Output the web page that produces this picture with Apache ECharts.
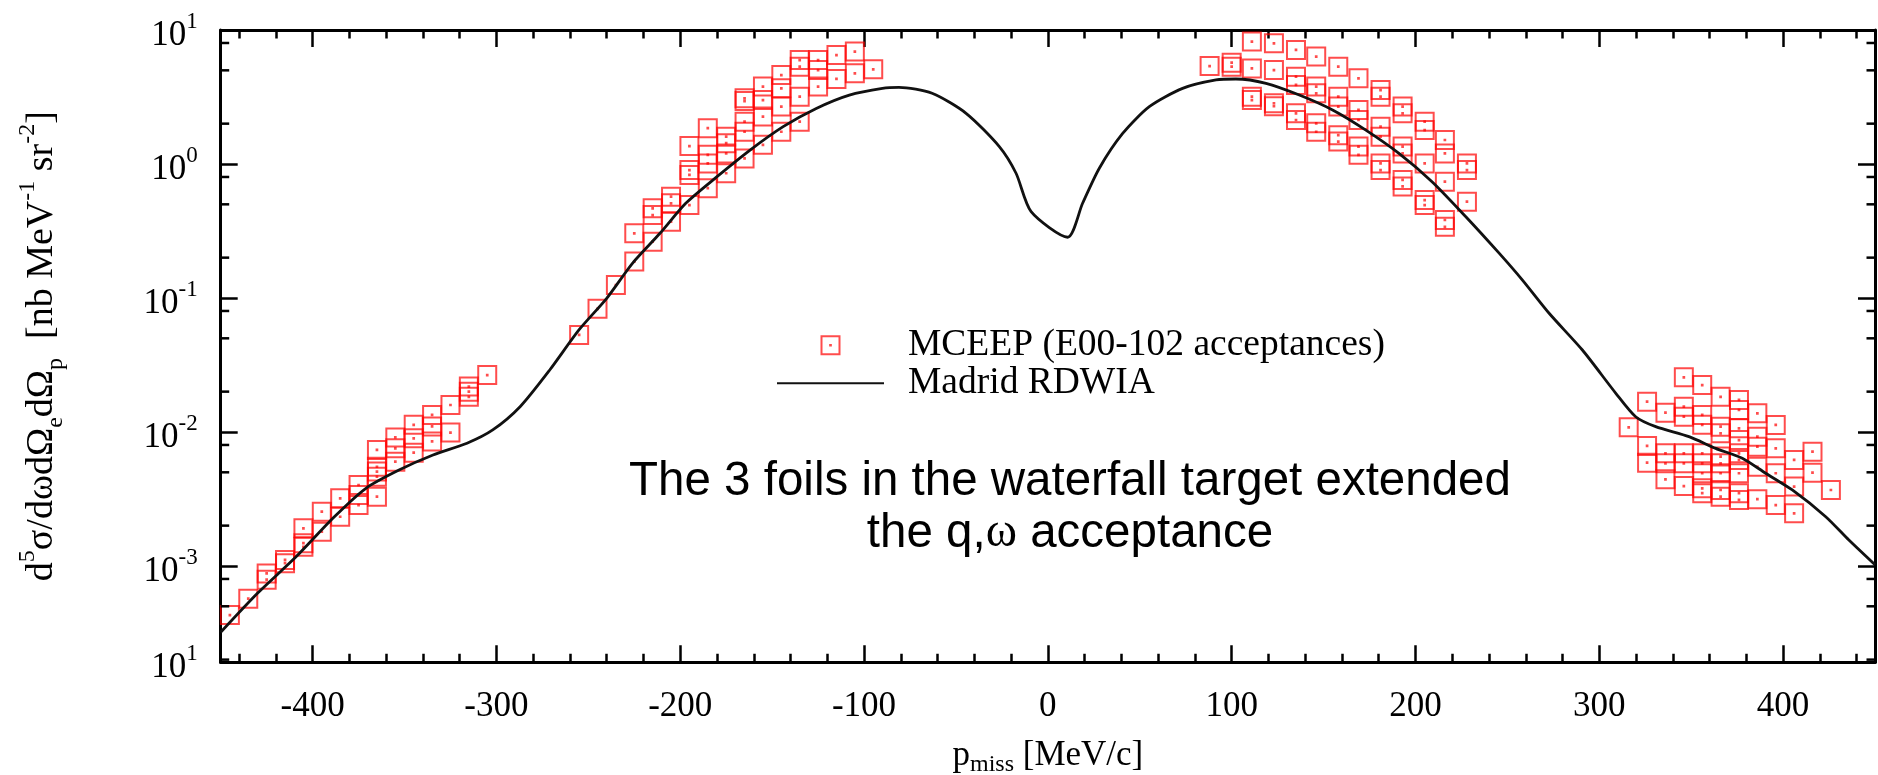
<!DOCTYPE html>
<html><head><meta charset="utf-8">
<script src="https://cdn.jsdelivr.net/npm/echarts@6/dist/echarts.min.js"></script>
<style>html,body{margin:0;padding:0;background:#fff;}#c{width:1878px;height:775px;}</style>
</head><body><div id="c"></div>
<script>
// ---- axis ranges & ticks ----
const X_MIN = -450, X_MAX = 450;
const Y_MIN = 1.91e-4, Y_MAX = 10;
const xMajorTicks = [-400, -300, -200, -100, 0, 100, 200, 300, 400];
const xMinorTicks = [-440, -420, -380, -360, -340, -320, -280, -260, -240, -220, -180, -160, -140, -120, -80, -60, -40, -20,
  20, 40, 60, 80, 120, 140, 160, 180, 220, 240, 260, 280, 320, 340, 360, 380, 420, 440];
const yMinorTicks = [2e-4, 5e-4, 8e-4, 2e-3, 5e-3, 8e-3, 0.02, 0.05, 0.08, 0.2, 0.5, 0.8, 2, 5, 8];
const yLabelValues = [Y_MIN, 1e-3, 1e-2, 1e-1, 1, 10];
const yLabelExp = ['1', '-3', '-2', '-1', '0', '1'];

// ---- texts ----
const seriesNames = ['MCEEP (E00-102 acceptances)', 'Madrid RDWIA'];
const xTitle = '{n|p}{sub|miss}{n| [MeV/c]}';
const yTitle = '{n|d}{sup|5}{n|σ/dωdΩ}{sub|e}{n|dΩ}{sub|p}{n|  [nb MeV}{sup|-1}{n| sr}{sup|-2}{n|]}';
const annotation = '{a|The 3 foils in the waterfall target extended}\n{a|the q,}{w|ω}{a| acceptance}';

// ---- MCEEP points [p_miss, cross section] ----
const mceepA = [[-445,4.3e-4],[-435,5.7e-4],[-425,7.9e-4],[-425,8.8e-4],[-415,1.05e-3],[-415,1.11e-3],[-405,1.39e-3],[-405,1.48e-3],[-405,1.91e-3],
  [-395,1.8e-3],[-395,2.54e-3],[-385,2.33e-3],[-385,3.2e-3],[-375,2.85e-3],[-375,3.39e-3],[-375,4.02e-3],
  [-365,3.29e-3],[-365,4.64e-3],[-365,5.06e-3],[-365,5.5e-3],[-365,7.34e-3],[-355,6.0e-3],[-355,7.55e-3],[-355,9.1e-3],
  [-345,7.0e-3],[-345,8.97e-3],[-345,1.13e-2],[-335,8.5e-3],[-335,1.1e-2],[-335,1.34e-2],[-325,9.9e-3],[-325,1.59e-2],
  [-315,1.83e-2],[-315,2.0e-2],[-315,2.18e-2],[-305,2.66e-2]];
const mceepB = [[-255,0.053],[-245,0.083],[-235,0.125],[-225,0.187],[-225,0.304],[-215,0.263],[-215,0.416],[-215,0.467],
  [-205,0.371],[-205,0.509],[-205,0.57],[-195,0.494],[-195,0.828],[-195,0.90],[-195,1.36],[-185,0.66],[-185,1.01],[-185,1.17],[-185,1.85],
  [-175,0.853],[-175,1.2],[-175,1.43],[-175,1.6],[-165,1.10],[-165,1.74],[-165,2.07],[-165,2.95],[-165,3.09],
  [-155,1.39],[-155,2.26],[-155,3.0],[-155,3.78],[-145,1.74],[-145,2.68],[-145,3.67],[-145,4.61],
  [-135,2.07],[-135,3.18],[-135,5.32],[-135,5.97],[-125,3.78],[-125,5.02],[-125,5.97],[-115,4.31],[-115,6.5],
  [-105,4.75],[-105,6.9],[-95,5.09]];
const mceepC = [[88,5.38],[100,5.32],[100,5.7],[111,8.19],[111,5.17],[111,3.18],[111,3.0],[123,7.95],[123,5.02],[123,2.84],[123,2.7],
  [135,7.1],[135,4.48],[135,3.89],[135,2.39],[135,2.13],[146,6.33],[146,3.78],[146,3.37],[146,2.01],[146,1.74],
  [158,5.32],[158,3.18],[158,2.68],[158,1.64],[158,1.47],[169,4.36],[169,2.53],[169,2.13],[169,1.35],[169,1.17],
  [181,3.56],[181,3.18],[181,1.90],[181,1.6],[181,1.01],[181,0.90],[193,2.68],[193,2.39],[193,1.35],[193,1.2],[193,0.76],[193,0.68],
  [205,2.07],[205,1.79],[205,1.01],[205,0.538],[205,0.494],[216,1.51],[216,1.20],[216,0.738],[216,0.382],[216,0.34],
  [228,1.01],[228,0.90],[228,0.523]];
const mceepD = [[316,0.01084],[326,0.01683],[326,7.87e-3],[326,5.9e-3],[336,0.01394],[336,6.93e-3],[336,5.83e-3],[336,4.43e-3],
  [346,0.0256],[346,0.01545],[346,0.013],[346,6.93e-3],[346,5.83e-3],[346,3.95e-3],
  [356,0.0224],[356,0.0134],[356,0.0113],[356,6.93e-3],[356,5.83e-3],[356,4.92e-3],[356,3.8e-3],[356,3.49e-3],
  [366,0.0183],[366,0.01096],[366,9.77e-3],[366,6.55e-3],[366,5.83e-3],[366,4.92e-3],[366,3.69e-3],[366,3.29e-3],
  [376,0.01734],[376,0.0146],[376,0.01064],[376,8.7e-3],[376,6.93e-3],[376,6.18e-3],[376,4.92e-3],[376,3.49e-3],[376,3.11e-3],
  [386,0.01377],[386,9.23e-3],[386,7.76e-3],[386,5.5e-3],[386,3.15e-3],[396,0.01128],[396,7.55e-3],[396,4.92e-3],[396,2.85e-3],
  [406,6.18e-3],[406,3.91e-3],[406,2.47e-3],[416,7.13e-3],[416,4.97e-3],[426,3.69e-3]];

// ---- Madrid RDWIA curve ----
const rdwia = [[-450,3.2e-4],[-430,6.25e-4],[-409,1.17e-3],[-389,2.27e-3],[-371,3.8e-3],[-353,5.2e-3],[-334.5,6.73e-3],[-316,8.24e-3],
  [-302,1.035e-2],[-287,1.55e-2],[-271,2.9e-2],[-255,5.8e-2],[-240,0.0995],[-226,0.1815],[-211,0.304],[-197,0.509],[-180,0.804],
  [-162,1.27],[-144,1.90],[-126,2.60],[-108,3.27],[-90,3.67],[-81,3.73],[-63,3.37],[-44.5,2.39],[-26.4,1.35],[-17.3,0.853],
  [-9.1,0.441],[10.8,0.284],[18.9,0.509],[28,0.93],[40.7,1.69],[55.2,2.68],[73.3,3.67],[91.5,4.24],[102.3,4.31],[118.7,4.0],
  [136.8,3.27],[154.9,2.53],[173,1.79],[191,1.20],[209,0.738],[227.4,0.404],[245.5,0.216],[258.2,0.136],[272.7,0.0769],
  [290.8,0.0409],[309,0.01945],[319.8,0.013],[330.7,0.01096],[348.8,0.00923],[363.3,0.00755],[377.8,0.00637],[390.5,0.00492],
  [405,0.00369],[423.2,0.00233],[435.8,0.00156],[450,0.00102]];

const SERIF = 'Liberation Serif';
const SANS = 'Liberation Sans';
const scatterSymbol = 'path://M0,0H20V20H0Z M9.6,9.6H10.4V10.4H9.6Z';

function yFmt(v) {
  for (let i = 0; i < yLabelValues.length; i++) {
    if (Math.abs(Math.log10(v) - Math.log10(yLabelValues[i])) < 0.02) return '{b|10}{s|' + yLabelExp[i] + '}';
  }
  return '';
}

const tickStyle = { color: '#000', width: 2.5 };
const lineAxis = { color: '#000', width: 3 };
function xAxisDef(pos, values, len, withLine, withLabel) {
  const a = {
    type: 'value', min: X_MIN, max: X_MAX, position: pos,
    axisLine: { show: withLine, onZero: false, lineStyle: lineAxis },
    axisTick: { show: true, inside: true, length: len, lineStyle: tickStyle, customValues: values },
    axisLabel: { show: withLabel },
    splitLine: { show: false }
  };
  if (withLabel) {
    a.axisLabel = { show: true, customValues: values, margin: 27, color: '#000', fontFamily: SERIF, fontSize: 35,
      showMinLabel: true, showMaxLabel: true };
    a.name = xTitle; a.nameLocation = 'middle'; a.nameGap = 74;
    a.nameTextStyle = { color: '#000', fontFamily: SERIF, rich: {
      n: { fontFamily: SERIF, fontSize: 35, lineHeight: 40, verticalAlign: 'middle', color: '#000' },
      sub: { fontFamily: SERIF, fontSize: 24, lineHeight: 24, verticalAlign: 'bottom', color: '#000' } } };
  }
  return a;
}

const chart = echarts.init(document.getElementById('c'), null, { renderer: 'canvas' });
chart.setOption({
  animation: false,
  backgroundColor: '#fff',
  grid: { left: 220.7, right: 3, top: 30, bottom: 112.7, containLabel: false, outerBoundsMode: 'none' },
  legend: {
    orient: 'vertical', left: 776, top: 326.25, padding: 0, itemGap: 0, itemWidth: 107, itemHeight: 18,
    selectedMode: false,
    data: [{ name: seriesNames[0] }, { name: seriesNames[1], itemStyle: { opacity: 0 } }],
    textStyle: { fontFamily: SERIF, fontSize: 37.5, lineHeight: 37.5, color: '#000', padding: [0, 0, 0, 19] }
  },
  xAxis: [
    xAxisDef('bottom', xMajorTicks, 17, true, true),
    xAxisDef('bottom', xMinorTicks, 8.5, false, false),
    xAxisDef('top', xMajorTicks, 17, true, false),
    xAxisDef('top', xMinorTicks, 8.5, false, false)
  ],
  yAxis: [
    {
      type: 'log', logBase: 10, min: Y_MIN, max: Y_MAX, position: 'left',
      axisLine: { show: true, onZero: false, lineStyle: lineAxis },
      axisTick: { show: true, inside: true, length: 17, lineStyle: tickStyle },
      minorTick: { show: false }, splitLine: { show: false }, minorSplitLine: { show: false },
      axisLabel: {
        margin: 23, showMinLabel: true, showMaxLabel: true, formatter: yFmt, padding: [12, 0, 0, 0],
        rich: {
          b: { fontFamily: SERIF, fontSize: 35, lineHeight: 52, verticalAlign: 'middle', color: '#000' },
          s: { fontFamily: SERIF, fontSize: 23, lineHeight: 22, verticalAlign: 'top', color: '#000' }
        }
      },
      name: yTitle, nameLocation: 'middle', nameRotate: 90, nameGap: 153,
      nameTextStyle: { color: '#000', fontFamily: SERIF, rich: {
        n: { fontFamily: SERIF, fontSize: 38, lineHeight: 52, verticalAlign: 'middle', color: '#000' },
        sup: { fontFamily: SERIF, fontSize: 24, lineHeight: 24, verticalAlign: 'top', color: '#000' },
        sub: { fontFamily: SERIF, fontSize: 24, lineHeight: 24, verticalAlign: 'bottom', color: '#000' } } }
    },
    {
      type: 'log', logBase: 10, min: Y_MIN, max: Y_MAX, position: 'right',
      axisLine: { show: true, onZero: false, lineStyle: lineAxis },
      axisTick: { show: true, inside: true, length: 17, lineStyle: tickStyle },
      axisLabel: { show: false }, splitLine: { show: false }, minorTick: { show: false }
    }
  ],
  series: [
    {
      name: seriesNames[0], type: 'scatter', xAxisIndex: 0, yAxisIndex: 0,
      data: [].concat(mceepA, mceepB, mceepC, mceepD),
      symbol: scatterSymbol, symbolSize: 18, z: 2,
      itemStyle: { color: 'rgba(255,0,0,0)', borderColor: 'rgba(255,0,0,0.88)', borderWidth: 2 },
      emphasis: { disabled: true }
    },
    {
      name: seriesNames[1], type: 'line', xAxisIndex: 0, yAxisIndex: 0, data: rdwia,
      symbol: 'none', showSymbol: false, smooth: 0.25, z: 3,
      itemStyle: { color: '#111' },
      lineStyle: { color: '#111', width: 2.8 }, emphasis: { disabled: true }
    },
    {
      type: 'custom', coordinateSystem: 'cartesian2d', xAxisIndex: 0, yAxisIndex: 0, silent: true, clip: false, z: 4,
      data: yMinorTicks.map(v => [X_MIN, v]),
      renderItem: function (params, api) {
        const v = api.value(1);
        const l = api.coord([X_MIN, v]);
        const r = api.coord([X_MAX, v]);
        return { type: 'group', children: [
          { type: 'line', shape: { x1: l[0], y1: l[1], x2: l[0] + 8.5, y2: l[1] }, style: { stroke: '#000', lineWidth: 2.5 } },
          { type: 'line', shape: { x1: r[0] - 8.5, y1: r[1], x2: r[0], y2: r[1] }, style: { stroke: '#000', lineWidth: 2.5 } }
        ] };
      }
    }
  ],
  graphic: [{
    type: 'text', x: 1070, y: 456, z: 10,
    style: {
      text: annotation, align: 'center', verticalAlign: 'top', fill: '#000',
      rich: {
        a: { fontFamily: SANS, fontSize: 47.5, lineHeight: 52, fill: '#000' },
        w: { fontFamily: SERIF, fontSize: 47.5, lineHeight: 52, fill: '#000' }
      }
    }
  }]
});
</script></body></html>
